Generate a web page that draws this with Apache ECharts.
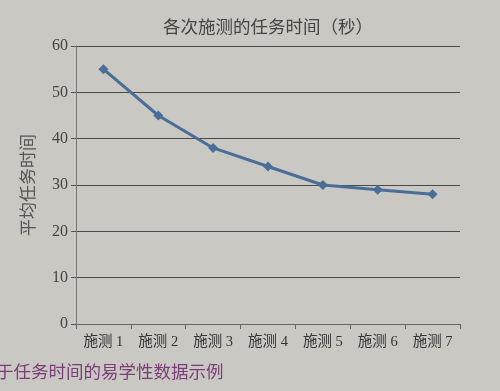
<!DOCTYPE html>
<html><head><meta charset="utf-8">
<script src="https://cdn.jsdelivr.net/npm/echarts@6/dist/echarts.min.js"></script>
<style>html,body{margin:0;padding:0;background:#cac8c3;}#c{width:500px;height:391px;}</style>
</head><body><div id="c"></div>
<script>
const categories = ['施测 1','施测 2','施测 3','施测 4','施测 5','施测 6','施测 7'];
const taskTimes = [55, 45, 38, 34, 30, 29, 28];
const yTicks = [0, 10, 20, 30, 40, 50, 60];
const titleText = '各次施测的任务时间（秒）';
const yName = '平均任务时间';
const caption = '于任务时间的易学性数据示例';

const FONT = "'Liberation Serif', 'Noto Sans CJK SC', serif";
const chart = echarts.init(document.getElementById('c'), null, {renderer: 'canvas'});
chart.setOption({
  backgroundColor: '#cac8c3',
  animation: false,
  title: {
    text: titleText, left: 263, top: 15, textAlign: 'center',
    textStyle: {fontFamily: FONT, fontSize: 17.5, fontWeight: 'normal', color: '#444'}
  },
  grid: {left: 76, right: 40, top: 46, bottom: 67},
  xAxis: {
    type: 'category', data: categories, boundaryGap: true,
    axisLine: {lineStyle: {color: '#666', width: 1}},
    axisTick: {show: true, length: 5, lineStyle: {color: '#666'}},
    axisLabel: {fontFamily: FONT, fontSize: 14.5, color: '#333', margin: 11}
  },
  yAxis: {
    type: 'value', min: yTicks[0], max: yTicks[yTicks.length - 1], interval: 10,
    name: yName, nameLocation: 'middle', nameGap: 38, nameRotate: 90,
    nameTextStyle: {fontFamily: FONT, fontSize: 17, color: '#555'},
    axisLine: {show: true, lineStyle: {color: '#777'}},
    axisTick: {show: true, length: 5, lineStyle: {color: '#555'}},
    axisLabel: {fontFamily: FONT, fontSize: 16, color: '#444', margin: 8},
    splitLine: {lineStyle: {color: '#4a4a4a', width: 1}}
  },
  series: [{
    type: 'line', data: taskTimes,
    symbol: 'diamond', symbolSize: 10,
    lineStyle: {color: '#4a6e99', width: 3},
    itemStyle: {color: '#4a6e99'}
  }],
  graphic: [{
    type: 'text', left: -4, top: 363,
    style: {text: caption, fontFamily: "'Noto Sans CJK SC', sans-serif", fontSize: 17.5, fill: '#7a3d78'}
  }]
});
</script></body></html>
